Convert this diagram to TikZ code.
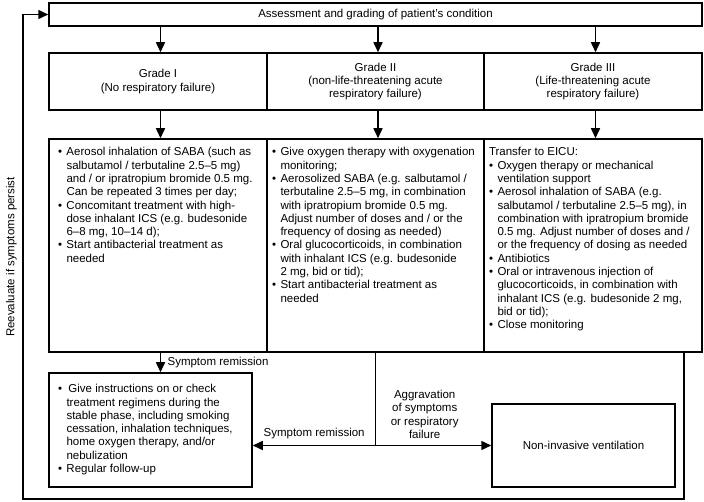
\documentclass[tikz,border=0pt]{standalone}
\usepackage{fontspec}
\setmainfont{Liberation Sans}
\usetikzlibrary{arrows.meta}

\newcommand\bul{\makebox[8.5pt][l]{\textbullet}}
\newcommand\ind{\hspace*{8.5pt}}

\begin{document}
\begin{tikzpicture}[x=1pt,y=-1pt,font=\fontsize{11.5}{13.3}\selectfont,
  box/.style={draw,line width=1.5pt,inner sep=0pt,align=center},
  arr/.style={line width=1.5pt,-{Triangle[length=10pt,width=9pt]}}]
  \useasboundingbox (0,0) rectangle (704,502);
  \node[box,minimum width=653,minimum height=23] (assess) at (375.5,14.5) {Assessment and grading of patient's condition};
  \node[box,minimum width=218,minimum height=57] (g1) at (158,81.5) {Grade I\\(No respiratory failure)};
  \node[box,minimum width=217,minimum height=57] (g2) at (375.5,81.5) {Grade II\\(non-life-threatening acute\\respiratory failure)};
  \node[box,minimum width=218,minimum height=57] (g3) at (593,81.5) {Grade III\\(Life-threatening acute\\respiratory failure)};
  % treatment per grade
  \node[box,minimum width=218,minimum height=213] (t1) at (158,245.5) {\parbox[c][198pt][t]{200pt}{\begin{tabular}{@{}l@{}}
    \bul Aerosol inhalation of SABA (such as\\
    \ind salbutamol / terbutaline 2.5--5 mg)\\
    \ind and / or ipratropium bromide 0.5 mg.\\
    \ind Can be repeated 3 times per day;\\
    \bul Concomitant treatment with high-\\
    \ind dose inhalant ICS (e.g. budesonide\\
    \ind 6--8 mg, 10--14 d);\\
    \bul Start antibacterial treatment as\\
    \ind needed
  \end{tabular}}};
  \node[box,minimum width=217,minimum height=213] (t2) at (375.5,245.5) {\parbox[c][198pt][t]{207pt}{\begin{tabular}{@{}l@{}}
    \bul Give oxygen therapy with oxygenation\\
    \ind monitoring;\\
    \bul Aerosolized SABA (e.g. salbutamol /\\
    \ind terbutaline 2.5--5 mg, in combination\\
    \ind with ipratropium bromide 0.5 mg.\\
    \ind Adjust number of doses and / or the\\
    \ind frequency of dosing as needed)\\
    \bul Oral glucocorticoids, in combination\\
    \ind with inhalant ICS (e.g. budesonide\\
    \ind 2 mg, bid or tid);\\
    \bul Start antibacterial treatment as\\
    \ind needed
  \end{tabular}}};
  \node[box,minimum width=218,minimum height=213] (t3) at (593,245.5) {\parbox[c][198pt][t]{208pt}{\begin{tabular}{@{}l@{}}
    Transfer to EICU:\\
    \bul Oxygen therapy or mechanical\\
    \ind ventilation support\\
    \bul Aerosol inhalation of SABA (e.g.\\
    \ind salbutamol / terbutaline 2.5--5 mg), in\\
    \ind combination with ipratropium bromide\\
    \ind 0.5 mg. Adjust number of doses and /\\
    \ind or the frequency of dosing as needed\\
    \bul Antibiotics\\
    \bul Oral or intravenous injection of\\
    \ind glucocorticoids, in combination with\\
    \ind inhalant ICS (e.g. budesonide 2 mg,\\
    \ind bid or tid);\\
    \bul Close monitoring
  \end{tabular}}};
  % outcomes
  \node[box,minimum width=203,minimum height=114] (stable) at (150.5,430) {\parbox{185pt}{\begin{tabular}{@{}l@{}}
    \bul\hspace{2pt}Give instructions on or check\\
    \ind treatment regimens during the\\
    \ind stable phase, including smoking\\
    \ind cessation, inhalation techniques,\\
    \ind home oxygen therapy, and/or\\
    \ind nebulization\\
    \bul Regular follow-up
  \end{tabular}}};
  \node[box,minimum width=183,minimum height=83] (niv) at (583.5,445.5) {Non-invasive ventilation};
  \node[rotate=90] (reeval) at (11.5,257) {Reevaluate if symptoms persist};
  % connectors
  \foreach \g in {g1,g2,g3}
    \draw[arr] ([xshift=2.5pt]assess.south -| \g.north) -- ([xshift=2.5pt]\g.north);
  \foreach \g/\t in {g1/t1,g2/t2,g3/t3}
    \draw[arr] ([xshift=2.5pt]\g.south) -- ([xshift=2.5pt]\t.north);
  \draw[arr] ([xshift=2.5pt]t1.south) -- node[right,xshift=3pt]{Symptom remission} ([xshift=2.5pt]t1.south |- stable.north);
  \draw[line width=1.5pt] (t2.south) -- (t2.south |- niv.west) coordinate (split);
  \draw[arr] (split) -- node[above,yshift=3pt]{Symptom remission} (split -| stable.east);
  \draw[arr] (split) -- node[above,pos=0.425,yshift=3pt,align=center]{Aggravation\\of symptoms\\or respiratory\\failure} (niv.west);
  \draw[arr] ([xshift=-19pt]t3.south east) |- (23,499) |- (assess.west);
\end{tikzpicture}
\end{document}
